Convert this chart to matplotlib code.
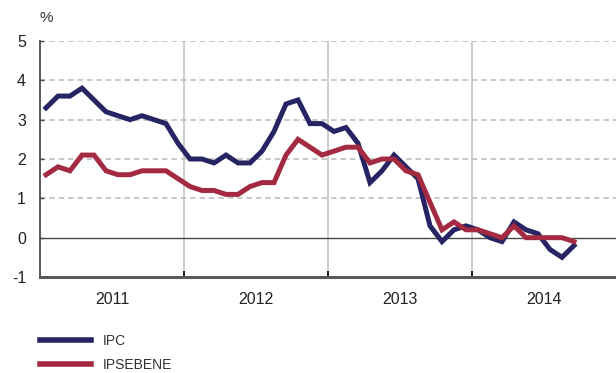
import matplotlib
matplotlib.use("Agg")
import matplotlib.pyplot as plt
import numpy as np

# monthly data, Jan 2011 - Sep 2014 (annual rate, %)
years = ["2011", "2012", "2013", "2014"]
ipc = [3.3, 3.6, 3.6, 3.8, 3.5, 3.2, 3.1, 3.0, 3.1, 3.0, 2.9, 2.4,
       2.0, 2.0, 1.9, 2.1, 1.9, 1.9, 2.2, 2.7, 3.4, 3.5, 2.9, 2.9,
       2.7, 2.8, 2.4, 1.4, 1.7, 2.1, 1.8, 1.5, 0.3, -0.1, 0.2, 0.3,
       0.2, 0.0, -0.1, 0.4, 0.2, 0.1, -0.3, -0.5, -0.2]
ipsebene = [1.6, 1.8, 1.7, 2.1, 2.1, 1.7, 1.6, 1.6, 1.7, 1.7, 1.7, 1.5,
            1.3, 1.2, 1.2, 1.1, 1.1, 1.3, 1.4, 1.4, 2.1, 2.5, 2.3, 2.1,
            2.2, 2.3, 2.3, 1.9, 2.0, 2.0, 1.7, 1.6, 0.9, 0.2, 0.4, 0.2,
            0.2, 0.1, 0.0, 0.3, 0.0, 0.0, 0.0, 0.0, -0.1]

blue = "#262462"
red = "#a42a41"
grid_c = "#c4c4c4"
dark = "#4a4a4a"

plt.rcParams['font.family'] = ['Liberation Sans', 'DejaVu Sans']

fig = plt.figure(figsize=(6.16, 3.73), dpi=100)
ax = fig.add_axes([40/616, 96/373, 576/616, 236/373])

x = np.arange(len(ipc)) + 0.5
ax.plot(x, ipc, color=blue, lw=3.6, label="IPC", solid_joinstyle='miter', zorder=4)
ax.plot(x, ipsebene, color=red, lw=3.6, label="IPSEBENE", solid_joinstyle='miter', zorder=5)

ax.set_xlim(0, 48)
ax.set_ylim(-1, 5)

# horizontal dashed grid
for yv in [1, 2, 3, 4, 5]:
    ax.axhline(yv, color=grid_c, lw=1.3, ls=(0, (3, 2.2)), zorder=1)
ax.axhline(0, color=dark, lw=1.0, zorder=2)
# year separators
for xv in [12, 24, 36]:
    ax.axvline(xv, color=grid_c, lw=1.2, zorder=1)

for s in ["top", "right"]:
    ax.spines[s].set_visible(False)
ax.spines["left"].set_color(dark)
ax.spines["left"].set_linewidth(1.3)
ax.spines["bottom"].set_color("#5a5a5a")
ax.spines["bottom"].set_linewidth(2.2)

ax.set_yticks(range(-1, 6))
ax.set_yticklabels([str(v) for v in range(-1, 6)])
ax.tick_params(axis="y", direction="in", length=3, width=1, color=dark,
               pad=10, labelsize=11.5, labelcolor="#222222")

ax.set_xticks([12, 24, 36])
ax.set_xticklabels([])
ax.set_xticks([6, 18, 30, 42], minor=True)
ax.set_xticklabels(years, minor=True)
ax.tick_params(axis="x", which="major", direction="in", length=4, width=1.5, color="#222222")
ax.tick_params(axis="x", which="minor", length=0, pad=11, labelsize=11.5, labelcolor="#222222")

fig.text(40/616, 1 - 18/373, "%", fontsize=11, color="#333333", va="center", ha="left")

leg = ax.legend(loc="upper left", bbox_to_anchor=(40/616, 1 - 334/373),
                bbox_transform=fig.transFigure, frameon=False,
                borderpad=0, borderaxespad=0,
                handlelength=3.7, handletextpad=0.85, labelspacing=0.7,
                prop={"size": 10})
for t in leg.get_texts():
    t.set_color("#333333")
for h in leg.legend_handles:
    h.set_linewidth(4)

fig.savefig("out.png", dpi=100)
